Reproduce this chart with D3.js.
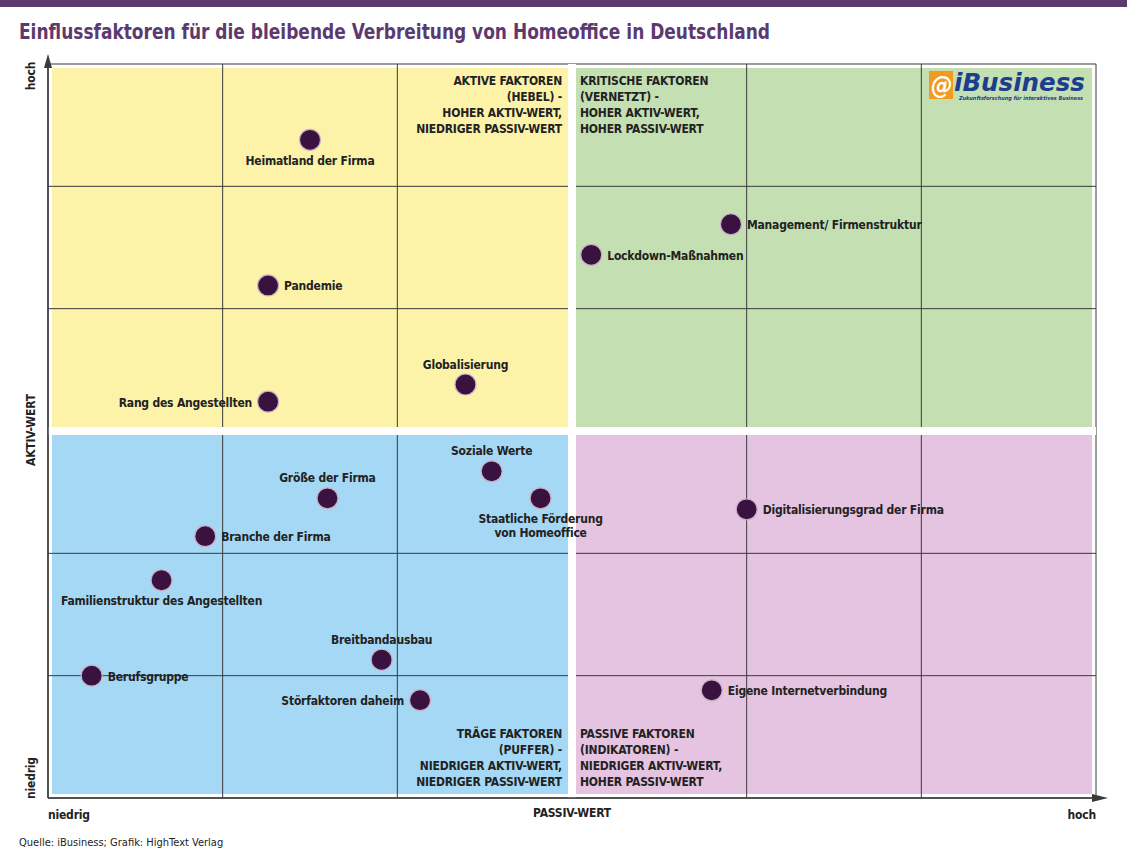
<!DOCTYPE html>
<html><head><meta charset="utf-8">
<script src="https://cdn.jsdelivr.net/npm/d3@7"></script>
<style>body{margin:0;background:#fff}svg{display:block}text{font-family:"DejaVu Sans Condensed","DejaVu Sans",sans-serif}</style>
</head><body>
<script>
const factors = ["Heimatland der Firma","Pandemie","Rang des Angestellten","Globalisierung","Lockdown-Maßnahmen","Management/ Firmenstruktur","Soziale Werte","Staatliche Förderung|von Homeoffice","Größe der Firma","Branche der Firma","Familienstruktur des Angestellten","Breitbandausbau","Berufsgruppe","Störfaktoren daheim","Digitalisierungsgrad der Firma","Eigene Internetverbindung"];
const passiv = [1.50,1.26,1.26,2.39,3.11,3.91,2.54,2.82,1.60,0.90,0.65,1.91,0.25,2.13,4.00,3.80];
const aktiv  = [5.38,4.19,3.24,3.38,4.44,4.69,2.67,2.45,2.45,2.14,1.78,1.13,1.00,0.80,2.36,0.88];
// label placement: side (b=below, a=above, r=right, l=left)
const labelSide = ["b","r","l","a","r","r","a","b","a","r","b","a","r","l","r","r"];
const quadrantTitles = [
 {q:"tl", lines:["AKTIVE FAKTOREN","(HEBEL) -","HOHER AKTIV-WERT,","NIEDRIGER PASSIV-WERT"]},
 {q:"tr", lines:["KRITISCHE FAKTOREN","(VERNETZT) -","HOHER AKTIV-WERT,","HOHER PASSIV-WERT"]},
 {q:"bl", lines:["TRÄGE FAKTOREN","(PUFFER) -","NIEDRIGER AKTIV-WERT,","NIEDRIGER PASSIV-WERT"]},
 {q:"br", lines:["PASSIVE FAKTOREN","(INDIKATOREN) -","NIEDRIGER AKTIV-WERT,","HOHER PASSIV-WERT"]}
];
const gridTicks = [0,1,2,3,4,5,6];

const W=1127,H=852, L=48,R=1096,T=64,B=798;
const svg=d3.select("body").append("svg").attr("width",W).attr("height",H);
const x=d3.scaleLinear().domain([0,6]).range([L,R]);
const y=d3.scaleLinear().domain([0,6]).range([B,T]);

svg.append("rect").attr("x",0).attr("y",0).attr("width",W).attr("height",7).attr("fill","#5c3a6e");
svg.append("text").attr("x",19).attr("y",39).attr("font-size",21).attr("font-weight","bold").attr("fill","#5c3a6e")
  .attr("textLength",751).attr("lengthAdjust","spacingAndGlyphs")
  .text("Einflussfaktoren für die bleibende Verbreitung von Homeoffice in Deutschland");

const quads=[{q:"tl",x0:0,x1:3,y0:3,y1:6,c:"#fdf3a8"},{q:"tr",x0:3,x1:6,y0:3,y1:6,c:"#c4dfb1"},
 {q:"bl",x0:0,x1:3,y0:0,y1:3,c:"#a5d8f5"},{q:"br",x0:3,x1:6,y0:0,y1:3,c:"#e4c4e0"}];
const g=4;
quads.forEach(d=>{
  svg.append("rect").attr("x",x(d.x0)+g).attr("y",y(d.y1)+g).attr("width",x(d.x1)-x(d.x0)-2*g).attr("height",y(d.y0)-y(d.y1)-2*g).attr("fill",d.c);
});
svg.append("g").selectAll("line").data(gridTicks).join("line").attr("x1",d=>x(d)).attr("x2",d=>x(d)).attr("y1",T).attr("y2",B).attr("stroke","#3a3a3a").attr("stroke-width",1);
svg.append("g").selectAll("line").data(gridTicks).join("line").attr("y1",d=>y(d)).attr("y2",d=>y(d)).attr("x1",L).attr("x2",R).attr("stroke","#3a3a3a").attr("stroke-width",1);
svg.append("rect").attr("x",x(3)-g).attr("y",T).attr("width",2*g).attr("height",B-T).attr("fill","#fff");
svg.append("rect").attr("y",y(3)-g).attr("x",L).attr("height",2*g).attr("width",R-L).attr("fill","#fff");
svg.append("line").attr("x1",L).attr("x2",L).attr("y1",B).attr("y2",60).attr("stroke","#3a3a3a").attr("stroke-width",1.5);
svg.append("path").attr("d",`M${L-4},68 L${L},54 L${L+4},68 Z`).attr("fill","#3a3a3a");
svg.append("line").attr("x1",L).attr("x2",1100).attr("y1",B).attr("y2",B).attr("stroke","#3a3a3a").attr("stroke-width",1.5);
svg.append("path").attr("d",`M1092,${B-4} L1108,${B} L1092,${B+4} Z`).attr("fill","#3a3a3a");

const lab=(t,xx,yy,a,rot)=>{const e=svg.append("text").attr("font-size",12).attr("font-weight","bold").attr("fill","#222").attr("letter-spacing",-0.2).attr("text-anchor",a||"start").text(t);
 if(rot) e.attr("transform",`translate(${xx},${yy}) rotate(-90)`); else e.attr("x",xx).attr("y",yy); return e;};
lab("hoch",35,76,"middle",true);
lab("niedrig",35,778,"middle",true);
lab("AKTIV-WERT",35,430,"middle",true);
lab("niedrig",48,819,"start");
lab("PASSIV-WERT",572,817,"middle");
lab("hoch",1096,819,"end");
svg.append("text").attr("x",19).attr("y",846).attr("font-size",11).attr("fill","#222").text("Quelle: iBusiness; Grafik: HighText Verlag");

quadrantTitles.forEach(d=>{
  const right=d.q.endsWith("l"); const top=d.q.startsWith("t");
  const tx= right? x(3)-10 : x(3)+8;
  const ty0= top? y(6)+21 : y(0)-60;
  d.lines.forEach((s,i)=>lab(s,tx,ty0+i*16,right?"end":"start"));
});

const lg=svg.append("g").attr("transform","translate(929,70)");
lg.append("rect").attr("x",0).attr("y",1).attr("width",24).attr("height",28).attr("fill","#f29a1f");
lg.append("text").attr("x",2).attr("y",24).attr("font-size",24).attr("font-weight","bold").attr("fill","#fff").attr("font-style","italic").text("@");
lg.append("text").attr("x",25).attr("y",21).attr("font-size",25).attr("font-weight","bold").attr("font-style","italic").attr("fill","#1d3d8f").attr("font-family","Liberation Sans")
  .attr("textLength",131).attr("lengthAdjust","spacingAndGlyphs").text("iBusiness");
lg.append("text").attr("x",30).attr("y",30).attr("font-size",5.5).attr("font-style","italic").attr("font-weight","bold").attr("fill","#1d3d8f").attr("font-family","Liberation Sans")
  .attr("textLength",124).attr("lengthAdjust","spacingAndGlyphs").text("Zukunftsforschung für interaktives Business");

const pts=factors.map((f,i)=>({f,px:passiv[i],ak:aktiv[i],s:labelSide[i]}));
svg.append("g").selectAll("circle").data(pts).join("circle").attr("cx",d=>x(d.px)).attr("cy",d=>y(d.ak)).attr("r",10.5)
  .attr("fill","#3a1240").attr("stroke","#c9b0c8").attr("stroke-width",1.2);
pts.forEach(d=>{
  const cx=x(d.px),cy=y(d.ak); const lines=d.f.split("|");
  let tx=cx,ty=cy+5,a="start";
  if(d.s==="r"){tx=cx+16;}
  else if(d.s==="l"){tx=cx-16;a="end";}
  else if(d.s==="b"){a="middle";ty=cy+25;}
  else if(d.s==="a"){a="middle";ty=cy-16;}
  lines.forEach((s,i)=>lab(s,tx,ty+i*14,a));
});
</script></body></html>
